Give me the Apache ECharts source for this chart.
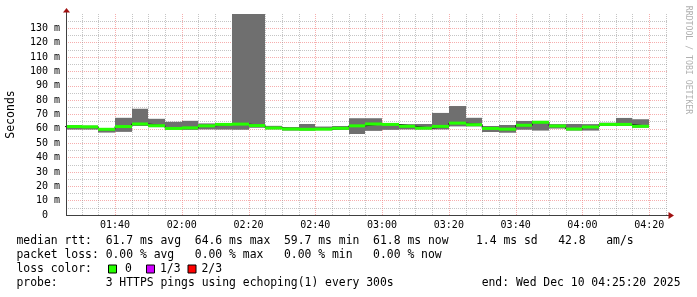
<!DOCTYPE html>
<html><head><meta charset="utf-8">
<script src="https://cdn.jsdelivr.net/npm/echarts@6/dist/echarts.min.js"></script>
<style>html,body{margin:0;padding:0;background:#fff}#c{width:697px;height:297px}</style>
</head><body><div id="c"></div>
<script>
// ---- data ----
const axisStart = '01:25:20';
const axisEnd = '04:25:20';
const stepMinutes = 5;
const stepStart = ['01:25','01:30','01:35','01:40','01:45','01:50','01:55',
  '02:00','02:05','02:10','02:15','02:20','02:25','02:30','02:35','02:40','02:45','02:50','02:55',
  '03:00','03:05','03:10','03:15','03:20','03:25','03:30','03:35','03:40','03:45','03:50','03:55',
  '04:00','04:05','04:10','04:15'];
const rttMedian = [61.6, 61.4, 59.7, 61.6, 63.4, 62.2, 60.3, 60.7, 62.1, 63.1, 63.3, 62.3, 60.6, 59.9, 59.7, 59.8, 60.4, 62.1, 63.4, 63.1, 61.8, 60.5, 61.7, 64.0, 62.9, 60.3, 59.8, 62.5, 64.6, 62.0, 59.9, 61.3, 63.1, 63.1, 61.8];
const rttMin = [59.5, 59.5, 57.4, 57.9, 62.0, 61.2, 59.5, 59.3, 59.6, 59.5, 59.3, 60.7, 59.7, 58.8, 58.8, 59.1, 59.3, 56.4, 58.6, 59.3, 59.6, 59.6, 59.6, 61.7, 61.7, 57.8, 57.3, 59.4, 58.8, 60.2, 58.8, 58.8, 62.0, 62.0, 60.8];
const rttMax = [62.6, 62.2, 60.5, 67.7, 74.0, 67.0, 64.9, 65.6, 63.8, 64.0, 145, 145, 62.1, 61.3, 63.4, 61.6, 62.0, 67.4, 67.4, 63.9, 63.3, 63.4, 71.1, 75.9, 67.7, 62.0, 62.7, 65.5, 65.5, 63.3, 63.4, 63.3, 64.3, 67.6, 66.7];
const xTickLabels = ['01:40','02:00','02:20','02:40','03:00','03:20','03:40','04:00','04:20'];
const yMax = 140;

const legendLines = [
  'median rtt:  61.7 ms avg  64.6 ms max  59.7 ms min  61.8 ms now    1.4 ms sd   42.8   am/s',
  'packet loss: 0.00 % avg   0.00 % max   0.00 % min   0.00 % now'
];
const lossLegend = [['0', '#26ff00'], ['1/3', '#d000ff'], ['2/3', '#ff0000']];
const probeText = 'probe:       3 HTTPS pings using echoping(1) every 300s';
const endText = 'end: Wed Dec 10 04:25:20 2025';

// ---- helpers ----
function toMin(s) { const p = s.split(':').map(Number); return p[0] * 60 + p[1] + (p[2] || 0) / 60; }
function fmt(m) { const h = Math.floor(m / 60), mm = Math.round(m - h * 60); return String(h).padStart(2, '0') + ':' + String(mm).padStart(2, '0'); }

const xMin = toMin(axisStart), xMax = toMin(axisEnd);
const gridLines = [];
for (let m = Math.ceil(xMin / 5) * 5; m <= xMax; m += 5) gridLines.push(m);

const smokeData = stepStart.map((s, i) => [toMin(s), toMin(s) + stepMinutes, rttMin[i], rttMax[i]]);
const medData = stepStart.map((s, i) => [toMin(s), toMin(s) + stepMinutes, rttMedian[i]]);
const medLine = stepStart.map((s, i) => [toMin(s), rttMedian[i]]);
medLine.push([toMin(stepStart[stepStart.length - 1]) + stepMinutes, rttMedian[rttMedian.length - 1]]);

const MONO = 'DejaVu Sans Mono';
const chart = echarts.init(document.getElementById('c'), null, { renderer: 'canvas' });

const graphics = [
  { type: 'polygon', shape: { points: [[63, 12.5], [70, 12.5], [66.5, 8]] }, style: { fill: '#a01010' }, z: 100 },
  { type: 'polygon', shape: { points: [[668.5, 212], [668.5, 219], [674, 215.5]] }, style: { fill: '#a01010' }, z: 100 },
  { type: 'line', shape: { x1: 66, y1: 215.5, x2: 669, y2: 215.5 }, style: { stroke: '#404040', lineWidth: 1 }, z: 99 },
  { type: 'line', shape: { x1: 66.5, y1: 12, x2: 66.5, y2: 215 }, style: { stroke: '#404040', lineWidth: 1 }, z: 99 },
  { type: 'text', x: 688, y: 60, rotation: -Math.PI / 2,
    style: { text: 'RRDTOOL / TOBI OETIKER', fill: '#b0b0b0', font: '8.2px ' + MONO, align: 'center', verticalAlign: 'middle' } }
];
legendLines.forEach((t, i) => graphics.push({ type: 'text', x: 16.5, y: 241 + i * 14,
  style: { text: t, fill: '#000', font: '11.4px ' + MONO, verticalAlign: 'middle' } }));
graphics.push({ type: 'text', x: 16.5, y: 269, style: { text: 'loss color:', fill: '#000', font: '11.4px ' + MONO, verticalAlign: 'middle' } });
const sqX = [108.5, 146.5, 188], lblX = [125, 160, 201.5];
lossLegend.forEach((d, i) => {
  graphics.push({ type: 'rect', shape: { x: sqX[i], y: 265, width: 8, height: 8 }, style: { fill: d[1], stroke: '#000', lineWidth: 1 } });
  graphics.push({ type: 'text', x: lblX[i], y: 269, style: { text: d[0], fill: '#000', font: '11.4px ' + MONO, verticalAlign: 'middle' } });
});
graphics.push({ type: 'text', x: 16.5, y: 283, style: { text: probeText, fill: '#000', font: '11.4px ' + MONO, verticalAlign: 'middle' } });
graphics.push({ type: 'text', x: 680.5, y: 283, style: { text: endText, fill: '#000', font: '11.4px ' + MONO, align: 'right', verticalAlign: 'middle' } });

chart.setOption({
  animation: false,
  backgroundColor: '#fff',
  grid: { left: 66, right: 30, top: 14, bottom: 82, containLabel: false, outerBoundsMode: 'none' },
  xAxis: {
    type: 'value', min: xMin, max: xMax,
    axisLine: { show: false },
    axisTick: { show: false },
    splitLine: { show: false },
    axisLabel: {
      customValues: xTickLabels.map(toMin),
      formatter: v => fmt(v),
      fontFamily: MONO, fontSize: 10, color: '#000', margin: 5
    }
  },
  yAxis: {
    type: 'value', min: 0, max: yMax, interval: 10,
    name: 'Seconds', nameLocation: 'middle', nameGap: 49, nameRotate: 90,
    nameTextStyle: { fontFamily: MONO, fontSize: 11.5, color: '#000' },
    axisLine: { show: false },
    axisTick: { show: false },
    axisLabel: {
      formatter: v => v === 0 ? '0  ' : v + ' m',
      showMaxLabel: false,
      fontFamily: MONO, fontSize: 10, color: '#000', margin: 6
    },
    splitLine: { show: true, showMinLine: false, showMaxLine: false,
      lineStyle: { color: 'rgba(240,120,120,0.6)', width: 1, type: [1, 1] } },
    minorTick: { show: false, splitNumber: 2 },
    minorSplitLine: { show: true, lineStyle: { color: 'rgba(140,140,140,0.5)', width: 1, type: [1, 1] } }
  },
  graphic: graphics,
  series: [
    {
      type: 'custom', z: 1, silent: true, clip: true,
      data: gridLines,
      encode: { x: 0 },
      renderItem: (params, api) => {
        const v = api.value(0);
        const p0 = api.coord([v, 0]), p1 = api.coord([v, yMax]);
        const x = Math.round(p0[0]) + 0.5;
        const major = Math.round(v) % 20 === 0;
        return { type: 'line', shape: { x1: x, y1: p0[1], x2: x, y2: p1[1] },
          style: { stroke: major ? 'rgba(240,120,120,0.6)' : 'rgba(140,140,140,0.5)', lineWidth: 1, lineDash: [1, 1] } };
      }
    },
    {
      type: 'custom', z: 2, silent: true, clip: true,
      data: smokeData,
      encode: { x: [0, 1], y: [2, 3] },
      renderItem: (params, api) => {
        const a = api.coord([api.value(0), api.value(3)]);
        const b = api.coord([api.value(1), api.value(2)]);
        const x0 = Math.round(a[0]), x1 = Math.round(b[0]);
        return { type: 'rect', shape: { x: x0, y: a[1], width: x1 - x0, height: b[1] - a[1] },
          style: { fill: '#6f6f6f' } };
      }
    },
    {
      type: 'line', z: 3, silent: true, step: 'end', symbol: 'none', clip: true,
      data: medLine,
      lineStyle: { color: '#202020', width: 1 }
    },
    {
      type: 'custom', z: 4, silent: true, clip: true,
      data: medData,
      encode: { x: [0, 1], y: 2 },
      renderItem: (params, api) => {
        const a = api.coord([api.value(0), api.value(2)]);
        const b = api.coord([api.value(1), api.value(2)]);
        const x0 = Math.round(a[0]), x1 = Math.round(b[0]);
        return { type: 'rect', shape: { x: x0, y: a[1] - 1.5, width: x1 - x0, height: 3 },
          style: { fill: '#26ff00' } };
      }
    }
  ]
});
</script></body></html>
